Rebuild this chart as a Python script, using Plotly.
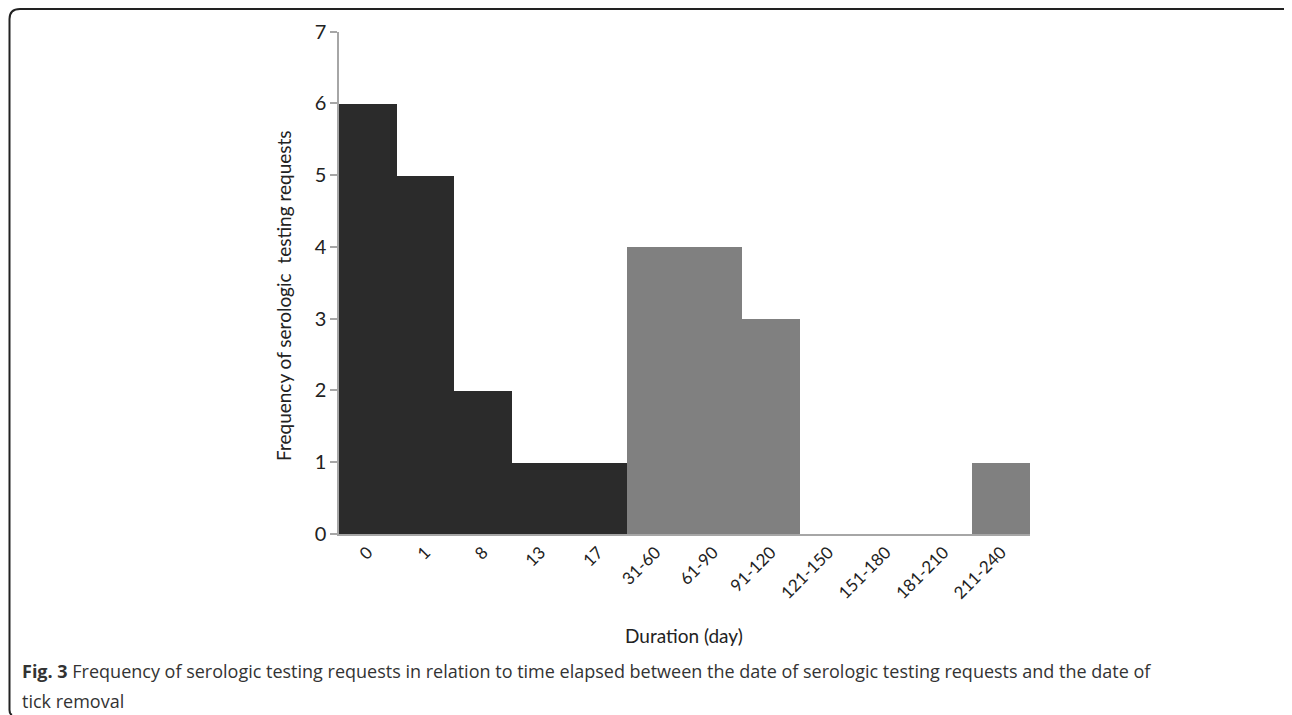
import plotly.graph_objects as go

categories = ["0", "1", "8", "13", "17", "31-60", "61-90", "91-120",
              "121-150", "151-180", "181-210", "211-240"]
frequencies = [6, 5, 2, 1, 1, 4, 4, 3, 0, 0, 0, 1]
bar_colors = ["#2b2b2b"] * 5 + ["#808080"] * 7
y_ticks = [0, 1, 2, 3, 4, 5, 6, 7]

# page body has an 8px margin, so the figure is shifted by 8px
OFF = 8
W, H = 1292 - OFF, 715 - OFF
def px(x): return (x - OFF) / W
def py(y): return 1 - (y - OFF) / H

fig = go.Figure()
fig.add_trace(go.Bar(
    x=categories, y=frequencies,
    marker=dict(color=bar_colors, line=dict(width=0)),
    width=1.0, showlegend=False, hoverinfo="x+y",
))

fig.update_layout(
    width=W, height=H,
    margin=dict(l=0, r=0, t=0, b=0),
    paper_bgcolor="white", plot_bgcolor="white",
    bargap=0,
    font=dict(family="Lato, Open Sans, sans-serif", color="#222222"),
    xaxis=dict(
        domain=[px(339), px(1030)],
        type="category",
        range=[-0.5, 11.5],
        showline=True, linecolor="#a6a6a6", linewidth=1.5,
        ticks="", tickangle=-45,
        tickfont=dict(size=17, family="Lato, sans-serif", color="#222222"),
        showgrid=False, zeroline=False, automargin=False,
    ),
    yaxis=dict(
        domain=[py(534), py(31.7)],
        range=[0, 7],
        tickvals=y_ticks,
        showline=True, linecolor="#a6a6a6", linewidth=1.5,
        ticks="outside", ticklen=7, tickcolor="#a6a6a6", tickwidth=1.5,
        tickfont=dict(size=20, family="Lato, sans-serif", color="#222222"),
        showgrid=False, zeroline=False, automargin=False,
    ),
    shapes=[dict(
        type="path", xref="paper", yref="paper",
        path=(f"M {px(1292)},{py(15)} Q {px(1290)},{py(9)} {px(1282)},{py(9)} "
              f"L {px(20)},{py(9)} Q {px(9.5)},{py(9)} {px(9.5)},{py(19)} "
              f"L {px(9.5)},{py(710)} Q {px(9.5)},{py(714)} {px(12)},{py(715)}"),
        line=dict(color="#222222", width=2),
    )],
    annotations=[
        dict(text="Frequency of serologic  testing requests", xref="paper", yref="paper",
             x=px(283), y=py(296), textangle=-90, showarrow=False,
             xanchor="center", yanchor="middle",
             font=dict(size=19, family="Lato, sans-serif", color="#222222")),
        dict(text="Duration (day)", xref="paper", yref="paper",
             x=px(684), y=py(635), showarrow=False,
             xanchor="center", yanchor="middle",
             font=dict(size=19, family="Lato, sans-serif", color="#222222")),
        dict(text="<b>Fig. 3</b> Frequency of serologic testing requests in relation to time elapsed between the date of serologic testing requests and the date of",
             xref="paper", yref="paper", x=px(20), y=py(671), showarrow=False,
             xanchor="left", yanchor="middle", align="left",
             font=dict(size=18, family="Open Sans, sans-serif", color="#333333")),
        dict(text="tick removal",
             xref="paper", yref="paper", x=px(20), y=py(701), showarrow=False,
             xanchor="left", yanchor="middle", align="left",
             font=dict(size=18, family="Open Sans, sans-serif", color="#333333")),
    ],
)

fig.write_html("out.html")
